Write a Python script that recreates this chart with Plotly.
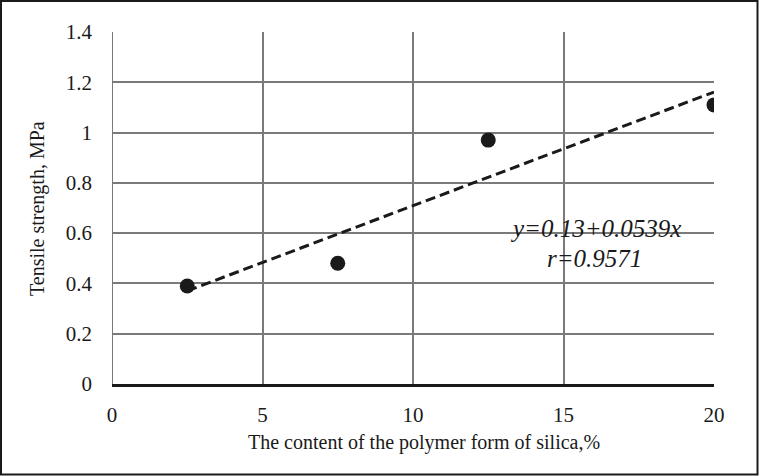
import numpy as np
import plotly.graph_objects as go

silica_pct = [2.5, 7.5, 12.5, 20.0]
tensile_mpa = [0.39, 0.48, 0.97, 1.11]
x_ticks = [0, 5, 10, 15, 20]
y_ticks = [0, 0.2, 0.4, 0.6, 0.8, 1.0, 1.2, 1.4]
eq_text = "y=0.13+0.0539x"
r_text = "r=0.9571"
x_title = "The content of the polymer form of silica,%"
y_title = "Tensile strength, MPa"

slope, intercept = np.polyfit(silica_pct, tensile_mpa, 1)
fit_x = [min(silica_pct), max(silica_pct)]
fit_y = [intercept + slope * v for v in fit_x]

W, H = 759, 476
L, R, T, B = 112, 45, 32, 92
pw, ph = W - L - R, H - T - B

def px(xp):
    return (xp - L) / pw

def py(yp):
    return (H - B - yp) / ph

font = "Liberation Serif, Times New Roman, serif"

fig = go.Figure()
fig.add_trace(go.Scatter(x=fit_x, y=fit_y, mode="lines",
                         line=dict(color="#1a1a1a", width=3, dash="10px,5px"),
                         showlegend=False, hoverinfo="skip"))
fig.add_trace(go.Scatter(x=silica_pct, y=tensile_mpa, mode="markers",
                         marker=dict(color="#1a1a1a", size=15),
                         showlegend=False))

fig.update_layout(
    width=W, height=H,
    margin=dict(l=L, r=R, t=T, b=B),
    paper_bgcolor="white", plot_bgcolor="white",
    font=dict(family=font, size=20, color="#1a1a1a"),
    xaxis=dict(range=[0, 20], tickvals=x_ticks, showgrid=True,
               gridcolor="#7a7a7a", gridwidth=2, zeroline=False,
               showline=True, linecolor="#1a1a1a", linewidth=2.5,
               ticks="", ticklabelstandoff=10, fixedrange=True,
               tickfont=dict(family=font, size=21, color="#1a1a1a")),
    yaxis=dict(range=[0, 1.4], tickvals=y_ticks, showgrid=True,
               gridcolor="#7a7a7a", gridwidth=2, zeroline=False,
               showline=False, ticks="", ticklabelstandoff=19,
               fixedrange=True,
               tickfont=dict(family=font, size=21, color="#1a1a1a")),
    shapes=[
        dict(type="line", xref="x", yref="paper", x0=0, x1=0, y0=0, y1=1,
             line=dict(color="#7a7a7a", width=2)),
        dict(type="rect", xref="paper", yref="paper",
             x0=px(1), x1=px(757.5), y0=py(474.5), y1=py(1),
             line=dict(color="#1a1a1a", width=2)),
    ],
    annotations=[
        dict(text=eq_text, x=px(595), y=py(228), xref="paper", yref="paper",
             showarrow=False, font=dict(size=25, family=font, style="italic"),
             xanchor="center", yanchor="middle"),
        dict(text=r_text, x=px(594), y=py(258), xref="paper", yref="paper",
             showarrow=False, font=dict(size=25, family=font, style="italic"),
             xanchor="center", yanchor="middle"),
        dict(text=x_title, x=px(424), y=py(442), xref="paper", yref="paper",
             showarrow=False, xanchor="center", yanchor="middle",
             font=dict(size=20, family=font)),
        dict(text=y_title, x=px(37), y=py(209), xref="paper", yref="paper",
             showarrow=False, textangle=-90, xanchor="center", yanchor="middle",
             font=dict(size=20, family=font)),
    ],
)

fig.write_html("out.html", config={"displayModeBar": False},
               post_script="document.body.style.margin='0';document.body.style.overflow='hidden';")
